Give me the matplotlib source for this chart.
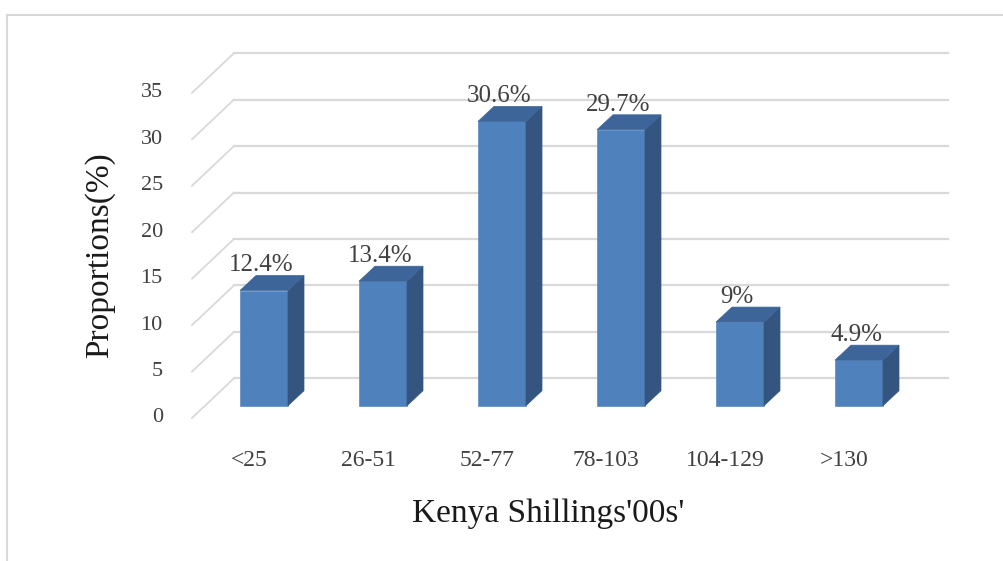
import matplotlib.pyplot as plt
from matplotlib.patches import Polygon
from matplotlib.lines import Line2D

categories = ['<25', '26-51', '52-77', '78-103', '104-129', '>130']
proportions = [12.4, 13.4, 30.6, 29.7, 9.0, 4.9]
value_labels = ['12.4%', '13.4%', '30.6%', '29.7%', '9%', '4.9%']
y_ticks = [0, 5, 10, 15, 20, 25, 30, 35]

plt.rcParams['font.family'] = ['Liberation Serif', 'DejaVu Serif']

W, H = 1004, 561
fig = plt.figure(figsize=(W / 100, H / 100), dpi=100)
ax = fig.add_axes([0, 0, 1, 1])

# pixel scale of the chart: one category step and one percent unit
x0, xs = 264.0, 119.0
y0, ys = 405.7, 9.29
ax.set_xlim(-x0 / xs, (W - x0) / xs)
ax.set_ylim((y0 - H) / ys, y0 / ys)
ax.axis('off')

# pseudo 3d geometry (in data units)
bar_w = 48 / xs
side_dx, side_dy = 16 / xs, 15 / ys
back_x, back_dy = (234 - x0) / xs, 27.4 / ys
front_x, front_dy = (192 - x0) / xs, -12.3 / ys
wall_end = (948 - x0) / xs

grid_col = '#D9D9D9'
for t in y_ticks:
    ax.plot([front_x, back_x], [t + front_dy, t + back_dy], color=grid_col, lw=1.3, zorder=1)
    ax.plot([back_x, wall_end], [t + back_dy, t + back_dy], color=grid_col, lw=1.6, zorder=1)
    ax.text(front_x - 0.245, t + front_dy, str(t), ha='right', va='center',
            fontsize=16, color='#404040')

xs_idx = list(range(len(categories)))
ax.bar(xs_idx, proportions, width=bar_w, color='#4F81BD', edgecolor='#5A8AC4', lw=0.5, zorder=3)
for i, v in zip(xs_idx, proportions):
    r = i + bar_w / 2
    l = i - bar_w / 2
    side = Polygon([(r, 0), (r + side_dx, side_dy), (r + side_dx, v + side_dy), (r, v)],
                   closed=True, facecolor='#34557F', edgecolor='#34557F', lw=0.5, zorder=3)
    top = Polygon([(l, v), (r, v), (r + side_dx, v + side_dy), (l + side_dx, v + side_dy)],
                  closed=True, facecolor='#3D6599', edgecolor='#3D6599', lw=0.5, zorder=3)
    ax.add_patch(side)
    ax.add_patch(top)

for i, v, lab in zip(xs_idx, proportions, value_labels):
    ax.text(i - 0.025, v + side_dy + 0.45, lab, ha='center', va='baseline',
            fontsize=18, color='#404040', zorder=4)

for i, c in zip(xs_idx, categories):
    ax.text(i - 0.126, (y0 - 466) / ys, c, ha='center', va='baseline',
            fontsize=17, color='#404040')

ax.text((100 - x0) / xs, (y0 - 255) / ys, 'Proportions(%)', rotation=90,
        ha='center', va='center', fontsize=24, color='#1a1a1a')
ax.text((548 - x0) / xs, (y0 - 522) / ys, "Kenya Shillings'00s'", ha='center',
        va='baseline', fontsize=24, color='#1a1a1a')

# outer chart frame
fig.add_artist(Line2D([7 / W, 1], [1 - 15 / H, 1 - 15 / H], transform=fig.transFigure,
                      color=grid_col, lw=1.5))
fig.add_artist(Line2D([7 / W, 7 / W], [0, 1 - 15 / H], transform=fig.transFigure,
                      color=grid_col, lw=1.5))

fig.savefig('out.png', dpi=100)
